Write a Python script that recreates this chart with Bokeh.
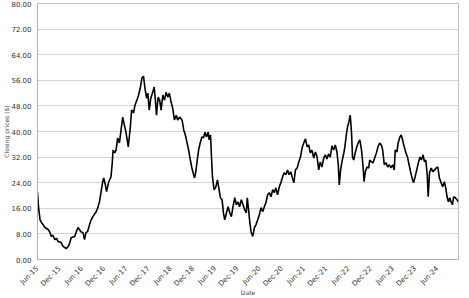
import math
import pandas as pd
from bokeh.plotting import figure
from bokeh.models import (ColumnDataSource, Range1d, FixedTicker, DatetimeTickFormatter,
                          PrintfTickFormatter)
from bokeh.embed import file_html
from bokeh.resources import INLINE

dates = [
    "2015-06-01", "2015-06-09", "2015-06-22", "2015-07-05", "2015-08-02", "2015-08-29",
    "2015-09-12", "2015-09-22", "2015-10-04", "2015-10-22", "2015-11-05", "2015-11-18",
    "2015-12-12", "2015-12-28", "2016-01-12", "2016-01-22", "2016-02-08", "2016-02-22",
    "2016-03-03", "2016-04-02", "2016-04-15", "2016-04-29", "2016-05-12", "2016-05-22",
    "2016-06-09", "2016-06-22", "2016-07-03", "2016-07-16", "2016-08-02", "2016-08-15",
    "2016-08-29", "2016-09-25", "2016-10-09", "2016-10-22", "2016-11-05", "2016-11-18",
    "2016-11-26", "2016-12-10", "2016-12-20", "2017-01-06", "2017-01-25", "2017-02-04",
    "2017-02-11", "2017-02-25", "2017-03-08", "2017-03-21", "2017-04-04", "2017-04-18",
    "2017-05-01", "2017-05-15", "2017-05-28", "2017-06-16", "2017-07-03", "2017-07-13",
    "2017-07-29", "2017-08-10", "2017-08-26", "2017-09-09", "2017-09-22", "2017-10-06",
    "2017-10-19", "2017-10-30", "2017-11-13", "2017-11-24", "2017-12-05", "2017-12-18",
    "2018-01-01", "2018-01-15", "2018-01-23", "2018-02-03", "2018-02-16", "2018-03-01",
    "2018-03-13", "2018-03-27", "2018-04-10", "2018-04-23", "2018-05-07", "2018-05-20",
    "2018-06-03", "2018-06-16", "2018-06-30", "2018-07-16", "2018-07-27", "2018-08-12",
    "2018-09-01", "2018-09-15", "2018-09-28", "2018-10-11", "2018-10-25", "2018-11-08",
    "2018-11-21", "2018-12-05", "2018-12-13", "2018-12-23", "2019-01-04", "2019-01-15",
    "2019-01-28", "2019-02-11", "2019-02-24", "2019-03-08", "2019-03-21", "2019-04-04",
    "2019-04-12", "2019-04-23", "2019-05-01", "2019-05-09", "2019-05-22", "2019-06-06",
    "2019-06-19", "2019-06-30", "2019-07-13", "2019-07-27", "2019-08-07", "2019-08-18",
    "2019-09-01", "2019-09-15", "2019-09-28", "2019-10-11", "2019-10-25", "2019-11-08",
    "2019-11-21", "2019-12-05", "2019-12-18", "2020-01-01", "2020-01-15", "2020-01-28",
    "2020-02-11", "2020-02-19", "2020-03-01", "2020-03-11", "2020-03-21", "2020-04-04",
    "2020-04-18", "2020-05-01", "2020-05-15", "2020-05-28", "2020-06-11", "2020-06-25",
    "2020-07-08", "2020-07-21", "2020-08-04", "2020-08-18", "2020-09-01", "2020-09-15",
    "2020-09-28", "2020-10-11", "2020-10-25", "2020-11-08", "2020-11-21", "2020-12-05",
    "2020-12-18", "2021-01-01", "2021-01-15", "2021-01-28", "2021-02-11", "2021-02-24",
    "2021-03-08", "2021-03-21", "2021-04-04", "2021-04-18", "2021-05-01", "2021-05-15",
    "2021-05-28", "2021-06-11", "2021-06-25", "2021-07-08", "2021-07-21", "2021-08-04",
    "2021-08-18", "2021-09-01", "2021-09-15", "2021-09-28", "2021-10-11", "2021-10-25",
    "2021-11-08", "2021-11-21", "2021-12-05", "2021-12-18", "2022-01-01", "2022-01-15",
    "2022-01-28", "2022-02-11", "2022-02-25", "2022-03-08", "2022-03-16", "2022-03-27",
    "2022-04-10", "2022-04-23", "2022-05-01", "2022-05-15", "2022-05-23", "2022-06-03",
    "2022-06-14", "2022-06-25", "2022-07-03", "2022-07-13", "2022-07-25", "2022-08-05",
    "2022-08-18", "2022-09-01", "2022-09-15", "2022-09-28", "2022-10-06", "2022-10-16",
    "2022-10-30", "2022-11-13", "2022-11-21", "2022-12-05", "2022-12-18", "2023-01-01",
    "2023-01-15", "2023-01-28", "2023-02-11", "2023-02-25", "2023-03-08", "2023-03-21",
    "2023-04-04", "2023-04-18", "2023-05-01", "2023-05-15", "2023-05-28", "2023-06-11",
    "2023-06-19", "2023-07-03", "2023-07-13", "2023-07-27", "2023-08-07", "2023-08-18",
    "2023-09-01", "2023-09-15", "2023-09-28", "2023-10-11", "2023-10-25", "2023-11-08",
    "2023-11-16", "2023-11-29", "2023-12-13", "2023-12-26", "2024-01-09", "2024-01-20",
    "2024-02-03", "2024-02-14", "2024-02-25", "2024-03-08", "2024-03-16", "2024-03-27",
    "2024-04-10", "2024-04-23", "2024-05-07", "2024-05-20", "2024-06-03", "2024-06-16",
    "2024-06-30", "2024-07-13", "2024-07-27", "2024-08-07", "2024-08-18", "2024-08-29",
    "2024-09-09", "2024-09-20", "2024-10-01", "2024-10-11", "2024-10-25", "2024-11-08",
    "2024-11-18",
]

prices = [
    21.0, 16.5, 12.4, 11.5, 10.0, 9.3,
    8.4, 7.2, 7.6, 6.2, 6.6, 5.6,
    5.3, 4.1, 3.7, 3.4, 4.0, 5.3,
    6.8, 7.2, 8.7, 10.0, 9.3, 8.7,
    8.4, 6.2, 8.4, 8.7, 10.9, 12.4,
    13.4, 14.9, 16.2, 18.0, 21.2, 24.3,
    25.5, 23.3, 21.2, 24.3, 25.8, 30.0,
    34.2, 33.3, 34.2, 38.0, 36.4, 40.5,
    44.5, 42.0, 39.8, 35.2, 41.4, 46.7,
    45.8, 48.2, 49.8, 51.4, 53.5, 56.7,
    57.3, 53.9, 50.4, 52.0, 46.7, 50.4,
    52.0, 53.9, 50.7, 45.1, 50.7, 49.8,
    46.7, 51.4, 49.8, 52.3, 50.7, 52.0,
    49.2, 47.3, 43.6, 45.1, 43.6, 44.5,
    43.6, 40.5, 38.9, 36.7, 34.2, 31.1,
    28.6, 26.5, 25.5, 27.4, 31.1, 34.2,
    36.4, 38.3, 38.0, 39.8, 38.3, 39.8,
    37.4, 38.9, 32.0, 25.8, 21.8, 22.7,
    24.9, 22.4, 19.3, 18.7, 14.6, 12.4,
    14.6, 16.5, 14.6, 13.4, 16.5, 19.3,
    17.1, 18.0, 16.5, 18.7, 17.1, 15.6,
    14.6, 19.3, 15.6, 11.5, 8.7, 7.2,
    10.0, 10.9, 12.4, 14.0, 16.2, 14.9,
    16.5, 17.7, 20.2, 20.9, 19.6, 21.8,
    20.9, 22.4, 20.2, 22.7, 24.0, 25.8,
    27.1, 26.5, 28.0, 26.5, 27.4, 25.5,
    24.0, 28.0, 28.6, 30.5, 32.0, 34.9,
    36.4, 37.7, 35.2, 35.8, 33.3, 34.2,
    31.7, 33.6, 32.0, 28.0, 30.5, 28.9,
    31.7, 32.7, 31.4, 33.0, 32.0, 35.5,
    34.2, 35.8, 33.6, 29.6, 23.3, 28.0,
    31.1, 33.3, 35.2, 39.5, 41.4, 43.0,
    45.1, 39.5, 32.0, 31.1, 33.3, 34.9,
    36.4, 37.4, 34.2, 28.9, 24.3, 27.4,
    28.9, 28.6, 31.1, 30.5, 30.2, 31.7,
    33.3, 35.2, 36.4, 35.8, 34.2, 29.6,
    30.2, 28.9, 29.6, 28.6, 29.6, 28.0,
    34.2, 33.6, 36.4, 38.3, 38.9, 37.4,
    35.2, 33.3, 32.0, 29.6, 27.1, 24.9,
    24.0, 25.8, 28.0, 30.2, 32.0, 31.1,
    32.7, 30.5, 31.1, 26.5, 19.6, 27.1,
    28.6, 27.4, 28.0, 28.6, 28.9, 25.5,
    24.0, 22.7, 24.3, 22.4, 19.6, 18.0,
    19.3, 18.0, 17.1, 19.6, 19.3, 18.7,
    18.0,
]

tick_dates = [
    "2015-06-01", "2015-12-01", "2016-06-01", "2016-12-01", "2017-06-01", "2017-12-01",
    "2018-06-01", "2018-12-01", "2019-06-01", "2019-12-01", "2020-06-01", "2020-12-01",
    "2021-06-01", "2021-12-01", "2022-06-01", "2022-12-01", "2023-06-01", "2023-12-01",
    "2024-06-01",
]
y_ticks = [0, 8, 16, 24, 32, 40, 48, 56, 64, 72, 80]

x_start = pd.Timestamp("2015-06-01")
x_end = pd.Timestamp("2024-11-20")

src = ColumnDataSource(dict(date=pd.to_datetime(dates), price=prices))

p = figure(width=469, height=298, x_axis_type="datetime",
           output_backend="svg", toolbar_location=None,
           x_range=Range1d(x_start, x_end), y_range=Range1d(0, 80),
           min_border_left=32, min_border_right=11, min_border_top=3,
           min_border_bottom=38, background_fill_color="white",
           border_fill_color="white")

p.line("date", "price", source=src, line_color="black", line_width=1.6)

FONT = "DejaVu Sans"
tick_ms = [pd.Timestamp(d).value / 1e6 for d in tick_dates]
p.xaxis.ticker = FixedTicker(ticks=tick_ms)
fmt = "%b-%y"
p.xaxis.formatter = DatetimeTickFormatter(
    milliseconds=fmt, seconds=fmt, minsec=fmt, minutes=fmt, hourmin=fmt, hours=fmt,
    days=fmt, months=fmt, years=fmt)
p.xaxis.major_label_orientation = math.pi / 4
p.yaxis.ticker = FixedTicker(ticks=y_ticks)
p.yaxis.formatter = PrintfTickFormatter(format="%.2f")

for ax in (p.xaxis, p.yaxis):
    ax.major_label_text_font = FONT
    ax.major_label_text_font_size = "7px"
    ax.major_label_text_color = "#333333"
    ax.major_tick_line_color = None
    ax.minor_tick_line_color = None
    ax.axis_line_color = "#b0b0b0"
    ax.axis_label_text_font = FONT
    ax.axis_label_text_font_size = "6px"
    ax.axis_label_text_font_style = "normal"
    ax.axis_label_text_color = "#444444"

p.yaxis.major_label_standoff = 0
p.yaxis.axis_label_standoff = -2
p.xaxis.major_label_standoff = 2
p.xaxis.axis_label_standoff = -5

p.xaxis.axis_label = "Date"
p.yaxis.axis_label = "Closing prices ($)"

p.xgrid.grid_line_color = None
p.ygrid.grid_line_color = "#d4d4d4"
p.ygrid.grid_line_width = 1
p.outline_line_color = "#c0c0c0"

open("out.html", "w").write(file_html(p, INLINE))
